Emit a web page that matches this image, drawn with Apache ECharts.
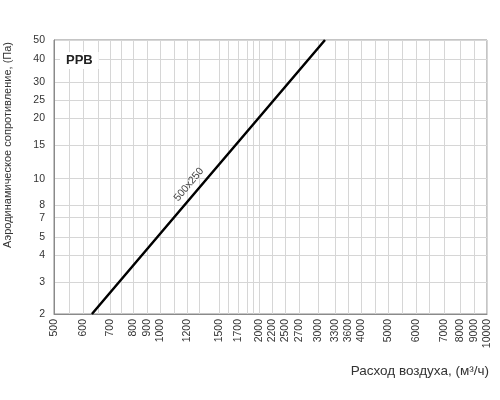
<!DOCTYPE html>
<html>
<head>
    <meta charset="utf-8">
    <script src="https://cdn.jsdelivr.net/npm/echarts@6/dist/echarts.min.js"></script>
    <style>
        html, body { margin: 0; padding: 0; background: #fff; }
        #chart { width: 500px; height: 400px; }
    </style>
</head>
<body>
    <div id="chart"></div>
<script type="text/javascript">
    // curve 500x250: air flow (m3/h) vs pressure drop (Pa)
    var flow = [650, 1440, 2060, 3260];
    var pressure = [2, 9.8, 20, 50];

    // vertical grid lines, where they sit on the picture
    var xGrid = [500, 555, 611, 678, 737, 795, 864, 951, 1041, 1147, 1255, 1364, 1566, 1667, 1786,
        1901, 1981, 2065, 2260, 2472, 2724, 3107, 3496, 3822, 4182, 4607, 5042, 5555, 6120,
        6694, 7427, 8298, 9142, 10000];
    // labelled x positions and their texts
    var xTickPos = [500, 611, 737, 864, 951, 1041, 1255, 1566, 1786, 2065, 2260, 2472, 2724,
        3107, 3496, 3822, 4182, 5042, 6120, 7427, 8298, 9142, 10000];
    var xTickText = ['500', '600', '700', '800', '900', '1000', '1200', '1500', '1700', '2000',
        '2200', '2500', '2700', '3000', '3300', '3600', '4000', '5000', '6000', '7000', '8000',
        '9000', '10000'];
    // labelled y positions and their texts
    var yTickPos = [2, 2.9, 4, 4.95, 6.2, 7.2, 9.8, 14.6, 20, 24.7, 30.5, 40, 50];
    var yTickText = ['2', '3', '4', '5', '7', '8', '10', '15', '20', '25', '30', '40', '50'];

    var font = 'Liberation Sans, Arial, sans-serif';

    function lookup(pos, text, v) {
        for (var i = 0; i < pos.length; i++) {
            if (Math.abs(pos[i] - v) / pos[i] < 0.001) return text[i];
        }
        return '';
    }

    var data = flow.map(function (q, i) {
        var item = { value: [q, pressure[i]] };
        if (i === 1) {
            item.label = {
                show: true,
                formatter: '500x250',
                position: 'inside',
                rotate: 50,
                offset: [-16, -10],   // in the rotated frame
                fontSize: 10.5,
                fontFamily: font,
                color: '#444'
            };
        }
        return item;
    });

    var chart = echarts.init(document.getElementById('chart'));

    var option = {
        animation: false,
        backgroundColor: '#fff',
        title: {
            text: 'PPB',
            left: 60,
            top: 52,
            padding: [2, 6],
            backgroundColor: '#fff',
            textStyle: { fontSize: 13, fontWeight: 'bold', fontFamily: font, color: '#222' }
        },
        grid: {
            left: 54, right: 13, top: 40, bottom: 86,
            outerBoundsMode: 'none',
            containLabel: false,
            show: true,
            borderColor: '#8a8a8a',
            borderWidth: 1
        },
        xAxis: {
            type: 'log',
            logBase: 10,
            min: 500,
            max: 10000,
            name: 'Расход воздуха, (м³/ч)',
            nameLocation: 'end',
            nameGap: 2,
            nameTextStyle: {
                fontSize: 13.5, fontFamily: font, color: '#333',
                align: 'right', verticalAlign: 'top', padding: [50, 0, 0, 0]
            },
            axisLine: { lineStyle: { color: '#8a8a8a', width: 1 } },
            axisTick: { show: false, customValues: xGrid },
            axisLabel: {
                customValues: xTickPos,
                rotate: 90,
                margin: 5,
                fontSize: 10.5,
                fontFamily: font,
                color: '#333',
                formatter: function (v) { return lookup(xTickPos, xTickText, v); }
            },
            splitLine: { show: true, lineStyle: { color: '#d6d6d6', width: 1 } },
            minorSplitLine: { show: false }
        },
        yAxis: {
            type: 'log',
            logBase: 10,
            min: 2,
            max: 50,
            name: 'Аэродинамическое сопротивление, (Па)',
            nameLocation: 'middle',
            nameGap: 41,
            nameTextStyle: { fontSize: 11, fontFamily: font, color: '#333', padding: [0, 0, 0, 64] },
            axisLine: { lineStyle: { color: '#8a8a8a', width: 1 } },
            axisTick: { show: false, customValues: yTickPos },
            axisLabel: {
                customValues: yTickPos,
                margin: 9,
                fontSize: 10.5,
                fontFamily: font,
                color: '#333',
                formatter: function (v) { return lookup(yTickPos, yTickText, v); }
            },
            splitLine: { show: true, lineStyle: { color: '#d6d6d6', width: 1 } }
        },
        series: [
            {
                name: '500x250',
                type: 'line',
                data: data,
                showSymbol: true,
                symbolSize: 0,
                lineStyle: { color: '#000', width: 2.5 },
                itemStyle: { color: '#000' },
                silent: true
            }
        ]
    };

    chart.setOption(option);
</script>
</body>
</html>
